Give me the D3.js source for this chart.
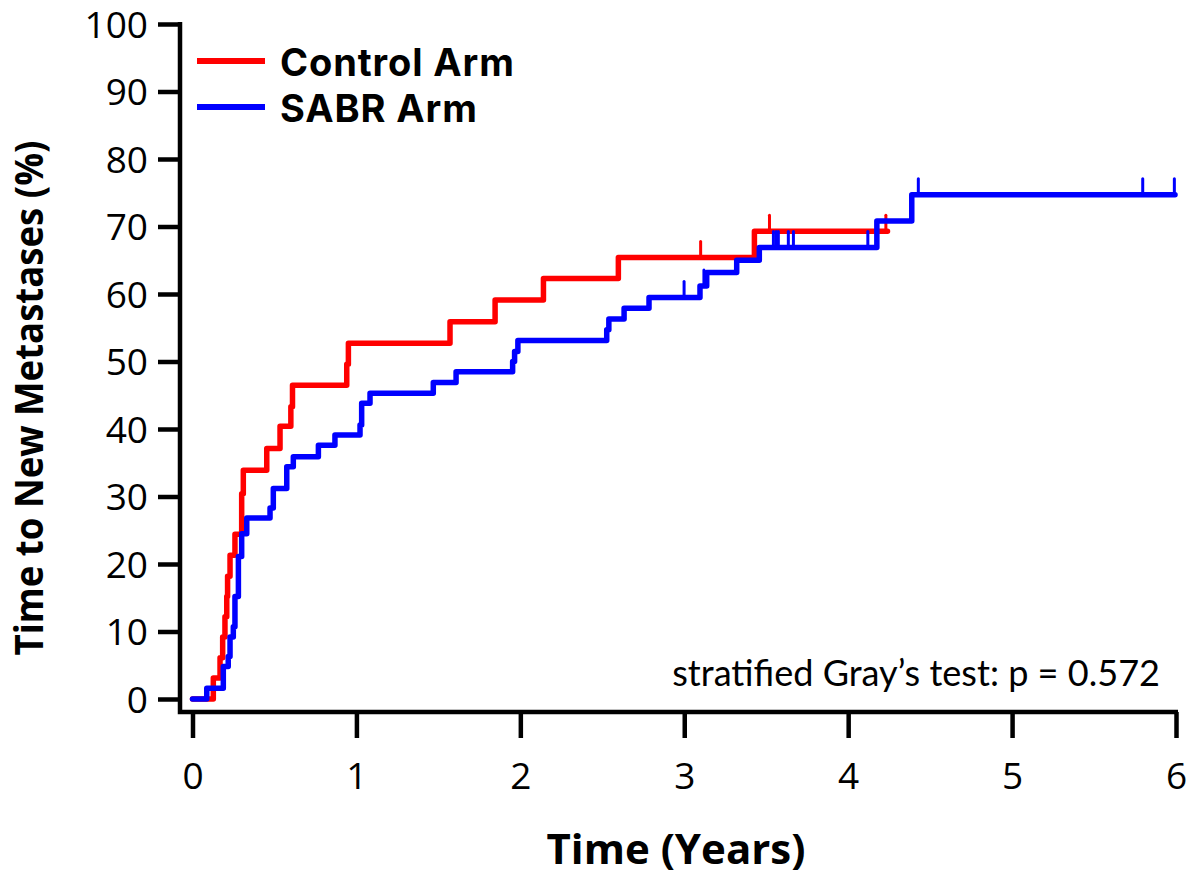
<!DOCTYPE html>
<html>
<head>
<meta charset="utf-8">
<script src="https://cdn.jsdelivr.net/npm/d3@7/dist/d3.min.js"></script>
<style>
  html, body { margin: 0; padding: 0; background: #fff; }
  svg { display: block; }
</style>
</head>
<body>
<svg id="chart" width="1193" height="876"></svg>
<script>
// ---- Data ----
const seriesNames = ["Control Arm", "SABR Arm"];
const seriesColors = ["#ff0000", "#0000ff"];

const controlTimes  = [0, 0.127, 0.168, 0.184, 0.198, 0.209, 0.214, 0.229, 0.259, 0.300, 0.310, 0.453, 0.534, 0.600, 0.610, 0.941, 0.951, 1.571, 1.846, 2.141, 2.598, 3.428];
const controlValues = [0, 3.1, 6.1, 9.2, 12.2, 15.2, 18.2, 21.3, 24.4, 30.4, 33.9, 37.1, 40.4, 43.3, 46.5, 49.6, 52.7, 55.9, 59.1, 62.3, 65.4, 69.3];
const controlEnd = 4.24;
const controlCensorTimes = [3.10, 3.52, 4.23];

const sabrTimes  = [0, 0.087, 0.188, 0.218, 0.229, 0.249, 0.259, 0.280, 0.300, 0.331, 0.473, 0.493, 0.575, 0.615, 0.768, 0.869, 1.022, 1.032, 1.083, 1.469, 1.608, 1.953, 1.965, 1.985, 2.527, 2.540, 2.633, 2.785, 3.096, 3.137, 3.320, 3.458, 4.175, 4.388];
const sabrValues = [0, 1.6, 4.8, 6.3, 9.2, 10.7, 15.2, 21.1, 24.5, 26.8, 28.3, 31.2, 34.4, 35.9, 37.6, 39.1, 40.6, 43.8, 45.3, 46.9, 48.5, 50.0, 51.5, 53.1, 54.7, 56.3, 57.9, 59.5, 61.2, 63.2, 65.0, 66.9, 70.8, 74.7];
const sabrEnd = 5.994;
const sabrCensorTimes = [2.999, 3.12, 3.544, 3.560, 3.574, 3.635, 3.666, 4.12, 4.428, 5.797, 5.99];

const xTicks = [0, 1, 2, 3, 4, 5, 6];
const yTicks = [0, 10, 20, 30, 40, 50, 60, 70, 80, 90, 100];

const xTitle = "Time (Years)";
const yTitle = "Time to New Metastases (%)";
const annotation = "stratified Gray\u2019s test: p = 0.572";

// ---- Layout ----
const svg = d3.select("#chart");
const x = d3.scaleLinear().domain([0, 6]).range([192.5, 1176]);
const y = d3.scaleLinear().domain([0, 100]).range([699, 24]);
const axisX = 180;   // position of y-axis line
const axisY = 712;   // position of x-axis line
const tickFont = "'Open Sans', 'DejaVu Sans', sans-serif";

// y axis
const gy = svg.append("g").attr("transform", `translate(${axisX},0)`)
  .call(d3.axisLeft(y).tickValues(yTicks).tickSize(22).tickPadding(10).tickSizeOuter(0));
gy.select(".domain").remove();
gy.selectAll(".tick line").attr("stroke", "#000").attr("stroke-width", 4.5);
gy.selectAll(".tick text").attr("font-family", tickFont).attr("font-size", 37).attr("fill", "#000").attr("dy", "0.36em");

// x axis
const gx = svg.append("g").attr("transform", `translate(0,${axisY})`)
  .call(d3.axisBottom(x).tickValues(xTicks).tickFormat(d3.format("d")).tickSize(26).tickPadding(25).tickSizeOuter(0));
gx.select(".domain").remove();
gx.selectAll(".tick line").attr("stroke", "#000").attr("stroke-width", 4.5);
gx.selectAll(".tick text").attr("font-family", tickFont).attr("font-size", 37).attr("fill", "#000");

// L-shaped axis lines
svg.append("path")
  .attr("d", `M${axisX},${y(100) - 2}V${axisY}H${x(6) + 2}`)
  .attr("fill", "none").attr("stroke", "#000").attr("stroke-width", 4.5)
  .attr("stroke-linejoin", "miter");

// axis titles
svg.append("text")
  .attr("x", 676).attr("y", 864)
  .attr("text-anchor", "middle")
  .attr("font-family", tickFont).attr("font-weight", 700).attr("font-size", 42)
  .text(xTitle);

svg.append("text")
  .attr("transform", `translate(43,${398}) rotate(-90)`)
  .attr("text-anchor", "middle")
  .attr("font-family", tickFont).attr("font-weight", 700).attr("font-size", 40)
  .attr("textLength", 515).attr("lengthAdjust", "spacingAndGlyphs")
  .text(yTitle);

// curves
const line = d3.line().x(d => x(d[0])).y(d => y(d[1])).curve(d3.curveStepAfter);

function stepValue(times, values, t) {
  let v = values[0];
  for (let i = 0; i < times.length; i++) if (times[i] <= t) v = values[i];
  return v;
}

const series = [
  { times: controlTimes, values: controlValues, end: controlEnd, censor: controlCensorTimes, color: seriesColors[0] },
  { times: sabrTimes, values: sabrValues, end: sabrEnd, censor: sabrCensorTimes, color: seriesColors[1] }
];

series.forEach(s => {
  const pts = s.times.map((t, i) => [t, s.values[i]]);
  pts.push([s.end, s.values[s.values.length - 1]]);
  svg.append("path")
    .datum(pts)
    .attr("d", line)
    .attr("fill", "none")
    .attr("stroke", s.color)
    .attr("stroke-width", 5.5)
    .attr("stroke-linejoin", "round")
    .attr("stroke-linecap", "round");
  svg.append("g").selectAll("line")
    .data(s.censor)
    .join("line")
    .attr("x1", d => x(d)).attr("x2", d => x(d))
    .attr("y1", d => y(stepValue(s.times, s.values, d)))
    .attr("y2", d => y(stepValue(s.times, s.values, d)) - 16)
    .attr("stroke", s.color)
    .attr("stroke-width", 3)
    .attr("stroke-linecap", "round");
});

// legend
const legendFont = "Inter, 'Open Sans', sans-serif";
const legendY = [61, 107];
seriesNames.forEach((name, i) => {
  svg.append("line")
    .attr("x1", 197).attr("x2", 265)
    .attr("y1", legendY[i]).attr("y2", legendY[i])
    .attr("stroke", seriesColors[i]).attr("stroke-width", 6);
  svg.append("text")
    .attr("x", 280).attr("y", legendY[i] + 15)
    .attr("font-family", legendFont).attr("font-weight", 700).attr("font-size", 38)
    .attr("letter-spacing", 0.9)
    .attr("fill", "#000")
    .text(name);
});

// annotation (fit to the reference's width)
const ann = svg.append("text")
  .attr("x", 1160).attr("y", 686)
  .attr("text-anchor", "end")
  .attr("font-family", "Lato, 'Open Sans', sans-serif").attr("font-size", 30)
  .attr("fill", "#000")
  .text(annotation);
const annW = ann.node().getComputedTextLength();
ann.attr("font-size", 30 * 488 / annW);
</script>
</body>
</html>
